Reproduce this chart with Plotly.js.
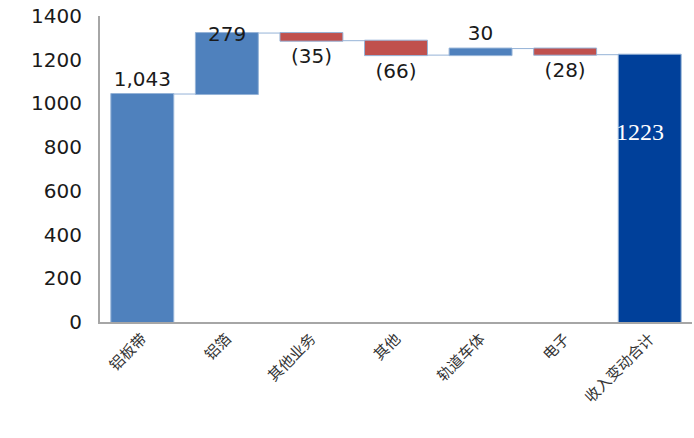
<!DOCTYPE html>
<html>
<head>
<meta charset="utf-8">
<script src="https://cdn.plot.ly/plotly-3.0.1.min.js"></script>
<style>html,body{margin:0;padding:0;background:#fff;}#chart{width:694px;height:438px;}</style>
</head>
<body>
<div id="chart"></div>
<script>
var categories = ["铝板带", "铝箔", "其他业务", "其他", "轨道车体", "电子", "收入变动合计"];
var values = [1043, 279, -35, -66, 30, -28, 1223];
var measures = ["relative", "relative", "relative", "relative", "relative", "relative", "total"];
var valueLabels = ["1,043", "279", "(35)", "(66)", "30", "(28)", "1223"];
var yTicks = [0, 200, 400, 600, 800, 1000, 1200, 1400];

// running totals (for placing the two labels that sit inside/at the bar top)
var running = [];
var acc = 0;
for (var i = 0; i < values.length; i++) {
  if (measures[i] === "total") { running.push(acc); } else { acc += values[i]; running.push(acc); }
}

var traceText = valueLabels.map(function (t, i) { return (i === 1 || i === 6) ? "" : t; });

var trace = {
  type: "waterfall",
  x: categories,
  y: values,
  measure: measures,
  text: traceText,
  textposition: "outside",
  textinfo: "text",
  constraintext: "none",
  cliponaxis: false,
  outsidetextfont: {family: "DejaVu Sans, sans-serif", size: 20, color: "#1a1a1a"},
  increasing: {marker: {color: "#4F81BD", line: {color: "#95B3D7", width: 1}}},
  decreasing: {marker: {color: "#C0504D", line: {color: "#95B3D7", width: 1}}},
  totals: {marker: {color: "#00409A", line: {color: "#95B3D7", width: 1}}},
  connector: {mode: "between", line: {color: "#95B3D7", width: 1}},
  width: 0.744,
  hoverinfo: "none"
};

var layout = {
  width: 694, height: 438,
  margin: {l: 100, r: 2, t: 16, b: 116},
  paper_bgcolor: "#fff", plot_bgcolor: "#fff",
  showlegend: false,
  font: {family: "DejaVu Sans, sans-serif", size: 20, color: "#1a1a1a"},
  xaxis: {
    type: "category",
    showline: true, linecolor: "#A6A6A6", linewidth: 2,
    showgrid: false, ticks: "",
    tickangle: -45,
    tickfont: {family: "Noto Sans CJK SC", size: 15, color: "#333"}
  },
  yaxis: {
    range: [0, 1400],
    tickvals: yTicks,
    showline: true, linecolor: "#A6A6A6", linewidth: 2,
    showgrid: false, zeroline: false, ticks: "",
    ticklabelstandoff: 12,
    tickfont: {family: "DejaVu Sans, sans-serif", size: 20, color: "#1a1a1a"}
  },
  annotations: [
    {
      x: categories[1], y: running[1], xref: "x", yref: "y",
      text: valueLabels[1], showarrow: false, yanchor: "middle", yshift: -1,
      font: {family: "DejaVu Sans, sans-serif", size: 20, color: "#1a1a1a"}
    },
    {
      x: categories[6], y: running[6], xref: "x", yref: "y",
      text: valueLabels[6], showarrow: false, yanchor: "middle", yshift: -77, xshift: -10,
      font: {family: "Liberation Serif, serif", size: 24, color: "#ffffff"}
    }
  ]
};

Plotly.newPlot("chart", [trace], layout, {displayModeBar: false, staticPlot: true});
</script>
</body>
</html>
